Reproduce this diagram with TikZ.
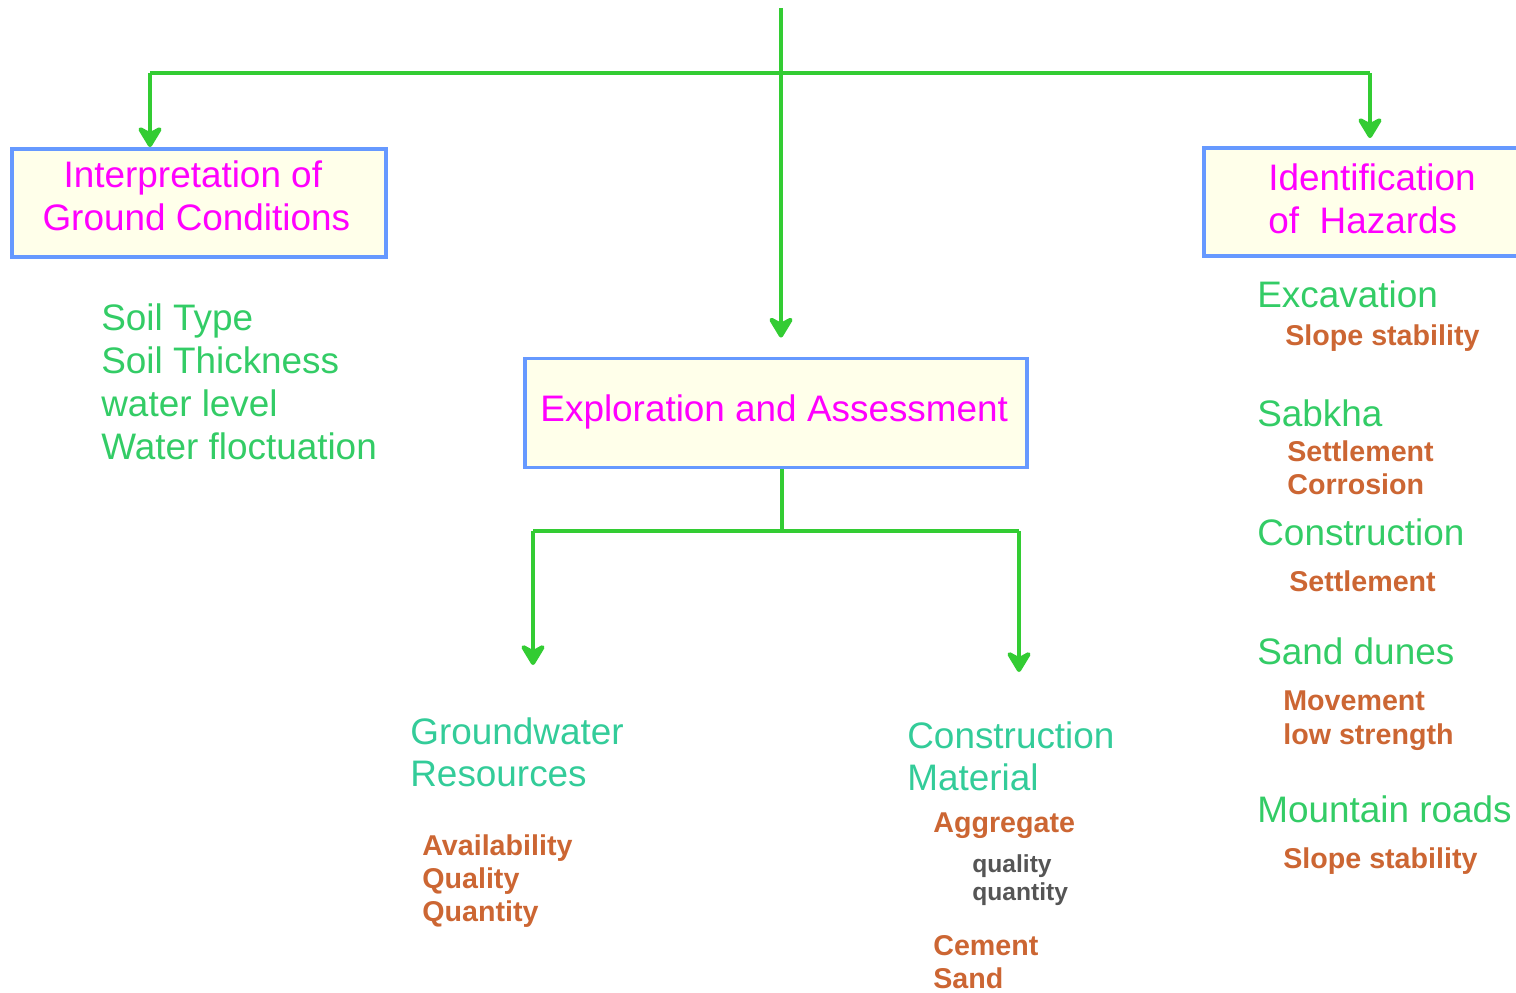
\documentclass[tikz,border=0pt]{standalone}
\usepackage{fontspec}
\setmainfont{Liberation Sans}
\usepackage{xcolor}
\usetikzlibrary{arrows.meta, positioning}

\definecolor{hijaugaris}{HTML}{33CC33}
\definecolor{birukotak}{HTML}{6699FF}
\definecolor{kuningmuda}{HTML}{FFFFEA}
\definecolor{magentajudul}{HTML}{FF00FF}
\definecolor{hijauteks}{HTML}{33CC66}
\definecolor{toska}{HTML}{33CC99}
\definecolor{oranye}{HTML}{CC6633}
\definecolor{abutua}{HTML}{555555}

\begin{document}
\begin{tikzpicture}[
    x=0.02cm, y=-0.02cm,
    kotak/.style={draw=birukotak, line width=2.2pt, fill=kuningmuda, align=center,
                  text=magentajudul, inner sep=0pt, font=\fontsize{21}{24.4}\selectfont},
    garis/.style={draw=hijaugaris, line width=2.8pt},
    panah/.style={garis, -{Stealth[length=5mm, width=6mm, inset=1.6mm, round]}},
    judul/.style={anchor=base west, align=left, inner sep=0pt, text=hijauteks,
                  font=\fontsize{21}{24.4}\selectfont},
    butir/.style={anchor=base west, align=left, inner sep=0pt, text=oranye,
                  font=\fontsize{16.3}{18.7}\selectfont\bfseries},
    rinci/.style={anchor=base west, align=left, inner sep=0pt, text=abutua,
                  font=\fontsize{14}{15.9}\selectfont\bfseries}
  ]
    \useasboundingbox (0,0) rectangle (1516,992);

    % kotak utama
    \node[kotak, minimum width=7.48cm, minimum height=2.16cm] (interp) at (199,203)
         {Interpretation of\kern7pt\\Ground Conditions\kern3pt\rule[-8pt]{0pt}{0pt}};
    \node[kotak, minimum width=10.04cm, minimum height=2.18cm] (eksplor) at (776,413)
         {Exploration and Assessment\kern2pt\rule[-5.7pt]{0pt}{0pt}};
    \node[kotak, minimum width=6.72cm, minimum height=2.16cm, align=left] (bahaya) at (1372,202)
         {Identification\\of\ \ Hazards\rule[-4pt]{0pt}{0pt}};

    % titik cabang
    \coordinate (puncak) at (781,8);
    \coordinate (kiri) at (150,73);
    \coordinate (kanan) at (1370,73);
    \coordinate (bawah) at (782,531);
    \coordinate (bawahkiri) at (533,531);
    \coordinate (bawahkanan) at (1019,531);
    \coordinate (ujungair) at (533,665);
    \coordinate (ujungbahan) at (1019,672);

    \draw[garis] (kiri) -- (kanan);
    \draw[panah, shorten >=0.38cm] (puncak) -- (eksplor.north -| puncak);
    \draw[panah] (kiri) -- (kiri |- interp.north);
    \draw[panah, shorten >=0.16cm] (kanan) -- (kanan |- bahaya.north);
    \draw[garis] (eksplor.south -| bawah) -- (bawah);
    \draw[garis] (bawahkiri) -- (bawahkanan);
    \draw[panah] (bawahkiri) -- (ujungair);
    \draw[panah] (bawahkanan) -- (ujungbahan);

    % kolom kiri
    \node[judul] (tanah) at (101,459)
         {Soil Type\\Soil Thickness\\water level\\Water floctuation};

    % air tanah
    \node[judul, text=toska, font=\fontsize{21}{23.8}\selectfont] (airtanah) at (410,786)
         {Groundwater\\Resources};
    \node[butir] (mutuair) at (422,921) {Availability\\Quality\\Quantity};

    % bahan konstruksi
    \node[judul, text=toska, font=\fontsize{21}{23.8}\selectfont] (bahan) at (907,790)
         {Construction\\Material};
    \node[butir] (agregat) at (933,832) {Aggregate};
    \node[rinci] (mutuagregat) at (972,900) {quality\\quantity};
    \node[butir] (semen) at (933,988) {Cement\\Sand};

    % daftar bahaya
    \node[judul] (galian) at (1257,307) {Excavation};
    \node[butir] (lereng1) at (1285,345) {Slope stability};
    \node[judul] (sabkha) at (1257,426) {Sabkha};
    \node[butir] (sabkhaisi) at (1287,494) {Settlement\\Corrosion};
    \node[judul] (konstruksi) at (1257,545) {Construction};
    \node[butir] (turun) at (1289,591) {Settlement};
    \node[judul] (bukit) at (1257,664) {Sand dunes};
    \node[butir, font=\fontsize{16.3}{19.3}\selectfont\bfseries] (bukitisi) at (1283,744)
         {Movement\\low strength};
    \node[judul] (jalan) at (1257,822) {Mountain roads};
    \node[butir] (lereng2) at (1283,868) {Slope stability};
  \end{tikzpicture}
\end{document}
